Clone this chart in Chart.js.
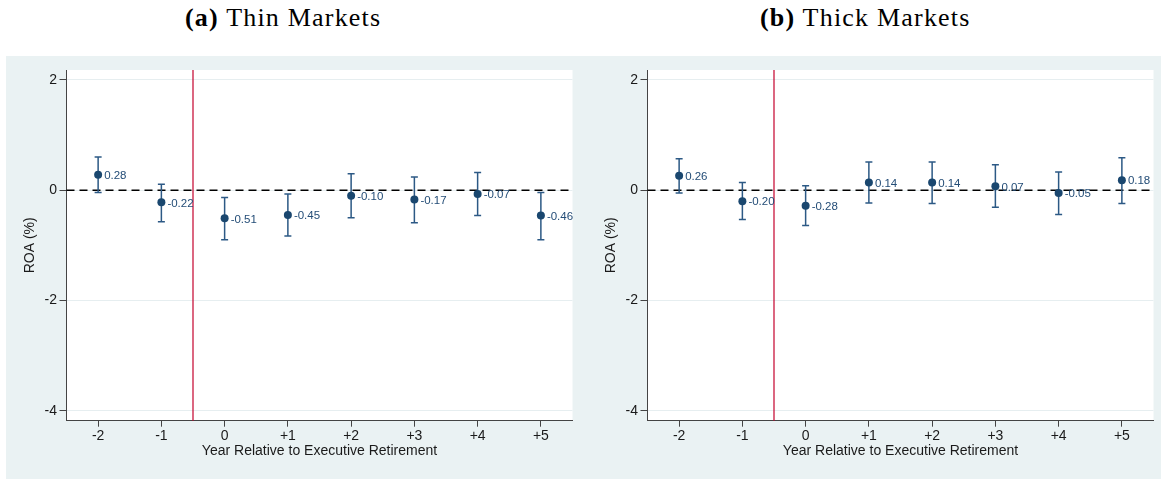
<!DOCTYPE html>
<html>
<head>
<meta charset="utf-8">
<script src="https://cdn.jsdelivr.net/npm/chart.js@4"></script>
<style>
  html, body { margin: 0; padding: 0; background: #fff; width: 1161px; height: 479px; overflow: hidden; }
  .frame { position: absolute; left: 6px; top: 56px; width: 1155px; height: 423px; background: #eaf2f3; }
  .cap { position: absolute; top: 5px; font-family: "Liberation Serif", serif; font-size: 26px;
         line-height: 1; letter-spacing: 1.2px; color: #000; white-space: nowrap; }
  .panel { position: absolute; top: 56px; width: 580px; height: 423px; }
  canvas { display: block; }
</style>
</head>
<body>
<div class="frame"></div>
<div class="cap" style="left:185px"><b>(a)</b> Thin Markets</div>
<div class="cap" style="left:760px"><b>(b)</b> Thick Markets</div>
<div class="panel" style="left:0px"><canvas id="thin" width="580" height="423"></canvas></div>
<div class="panel" style="left:581px"><canvas id="thick" width="580" height="423"></canvas></div>

<script>
// Event-time axis
const years = [-2, -1, 0, 1, 2, 3, 4, 5];
const yearLabels = ['-2', '-1', '0', '+1', '+2', '+3', '+4', '+5'];
const roaTicks = [-4, -2, 0, 2];
const retirementYear = -0.5;

// Thin markets: point estimates and 95% confidence bounds
const thinEst = [0.28, -0.22, -0.51, -0.45, -0.10, -0.17, -0.07, -0.46];
const thinLo  = [-0.04, -0.57, -0.90, -0.83, -0.50, -0.59, -0.46, -0.90];
const thinHi  = [0.60, 0.11, -0.13, -0.07, 0.30, 0.24, 0.32, -0.04];

// Thick markets
const thickEst = [0.26, -0.20, -0.28, 0.14, 0.14, 0.07, -0.05, 0.18];
const thickLo  = [-0.05, -0.53, -0.64, -0.23, -0.24, -0.31, -0.44, -0.24];
const thickHi  = [0.57, 0.14, 0.08, 0.51, 0.51, 0.46, 0.33, 0.59];

const SANS = 'Liberation Sans, Arial, sans-serif';
const NAVY = '#1a476f';

// Plot background, reference lines, confidence intervals and value labels
const decorPlugin = {
  id: 'decor',
  beforeDraw(chart) {
    const { ctx, chartArea: a } = chart;
    ctx.save();
    ctx.fillStyle = '#ffffff';
    ctx.fillRect(a.left, a.top, a.right - a.left, a.bottom - a.top);
    ctx.restore();
  },
  beforeDatasetsDraw(chart, args, opts) {
    const { ctx, chartArea: a, scales: { x, y } } = chart;
    ctx.save();
    // retirement year marker
    const rx = x.getPixelForValue(retirementYear);
    ctx.strokeStyle = '#c4002c';
    ctx.lineWidth = 1.2;
    ctx.beginPath();
    ctx.moveTo(rx, a.top);
    ctx.lineTo(rx, a.bottom);
    ctx.stroke();
    // zero reference
    const zy = y.getPixelForValue(0);
    ctx.strokeStyle = '#000';
    ctx.lineWidth = 1.5;
    ctx.setLineDash([8, 5]);
    ctx.beginPath();
    ctx.moveTo(a.left, zy);
    ctx.lineTo(a.right, zy);
    ctx.stroke();
    ctx.setLineDash([]);
    // confidence intervals with caps
    ctx.strokeStyle = '#2c5985';
    ctx.lineWidth = 1.5;
    years.forEach((yr, i) => {
      const px = x.getPixelForValue(yr);
      const top = y.getPixelForValue(opts.hi[i]);
      const bot = y.getPixelForValue(opts.lo[i]);
      ctx.beginPath();
      ctx.moveTo(px, top); ctx.lineTo(px, bot);
      ctx.moveTo(px - 3.5, top); ctx.lineTo(px + 3.5, top);
      ctx.moveTo(px - 3.5, bot); ctx.lineTo(px + 3.5, bot);
      ctx.stroke();
    });
    ctx.restore();
  },
  afterDatasetsDraw(chart, args, opts) {
    const { ctx, scales: { x, y } } = chart;
    ctx.save();
    ctx.fillStyle = '#244d77';
    ctx.font = '11.5px ' + SANS;
    ctx.textAlign = 'left';
    ctx.textBaseline = 'middle';
    years.forEach((yr, i) => {
      const v = opts.est[i];
      ctx.fillText(v.toFixed(2), x.getPixelForValue(yr) + 6, y.getPixelForValue(v) + 1);
    });
    ctx.restore();
  }
};

function buildPanel(id, est, lo, hi) {
  return new Chart(document.getElementById(id), {
    type: 'scatter',
    data: {
      datasets: [{
        data: years.map((yr, i) => ({ x: yr, y: est[i] })),
        backgroundColor: NAVY,
        borderColor: NAVY,
        borderWidth: 0,
        pointRadius: 4,
        pointHoverRadius: 4
      }]
    },
    options: {
      responsive: false,
      animation: false,
      events: [],
      layout: { padding: { top: 14, right: 7.5, bottom: 0, left: 0 } },
      plugins: {
        legend: { display: false },
        tooltip: { enabled: false },
        decor: { est, lo, hi }
      },
      scales: {
        x: {
          type: 'linear',
          min: -2.5,
          max: 5.5,
          afterBuildTicks: s => { s.ticks = years.map(v => ({ value: v })); },
          afterFit: s => { s.height = 58.3; },
          grid: { drawOnChartArea: false, drawTicks: true, tickLength: 6, tickColor: '#444' },
          border: { color: '#444', width: 1 },
          ticks: {
            callback: v => yearLabels[years.indexOf(v)],
            color: '#1a1a1a', font: { family: SANS, size: 14 },
            padding: 1, autoSkip: false, maxRotation: 0, minRotation: 0
          },
          title: {
            display: true, text: 'Year Relative to Executive Retirement',
            color: '#1a1a1a', font: { family: SANS, size: 14 },
            padding: { top: 0, bottom: 19.6 }
          }
        },
        y: {
          type: 'linear',
          min: -4.18,
          max: 2.18,
          afterBuildTicks: s => { s.ticks = roaTicks.map(v => ({ value: v })); },
          afterFit: s => { s.width = 66.5; },
          grid: { color: '#e6eef0', lineWidth: 1, drawTicks: true, tickLength: 7, tickColor: '#444' },
          border: { color: '#444', width: 1 },
          ticks: { color: '#1a1a1a', font: { family: SANS, size: 14 }, padding: 2.5 },
          title: {
            display: true, text: 'ROA (%)',
            color: '#1a1a1a', font: { family: SANS, size: 14 },
            padding: { top: 21.6, bottom: 0 }
          }
        }
      }
    },
    plugins: [decorPlugin]
  });
}

buildPanel('thin', thinEst, thinLo, thinHi);
buildPanel('thick', thickEst, thickLo, thickHi);
</script>
</body>
</html>
